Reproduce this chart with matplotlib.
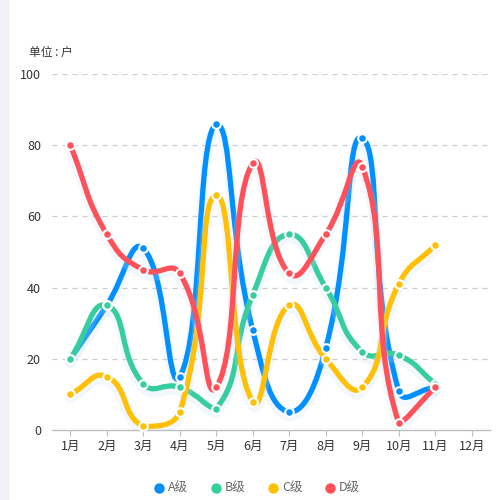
import matplotlib
matplotlib.use("Agg")
import matplotlib.pyplot as plt
import matplotlib.patheffects as pe
from matplotlib.path import Path
from matplotlib.patches import PathPatch, Rectangle
import numpy as np

plt.rcParams['font.family'] = ['Noto Sans CJK SC', 'DejaVu Sans']

# Chart data
months = ['1月', '2月', '3月', '4月', '5月', '6月', '7月', '8月', '9月', '10月', '11月', '12月']
series_names = ['A级', 'B级', 'C级', 'D级']
a_values = [20, 35, 51, 15, 86, 28, 5, 23, 82, 11, 12]
b_values = [20, 35, 13, 12, 6, 38, 55, 40, 22, 21, 13]
c_values = [10, 15, 1, 5, 66, 8, 35, 20, 12, 41, 52]
d_values = [80, 55, 45, 44, 12, 75, 44, 55, 74, 2, 12]
colors = ['#0090FF', '#36CE9E', '#FFC005', '#FF515A']

# pixel scale of the plot area, used so smoothing works like in echarts
PX_X = 36.7
PX_Y = 3.56


def smooth_path(xs, ys, smooth=0.5):
    """Build an echarts (v4) style smoothed bezier path in data coords."""
    pts = np.column_stack([np.array(xs) * PX_X, np.array(ys) * PX_Y])
    lo = pts.min(axis=0)
    hi = pts.max(axis=0)
    n = len(pts)
    cps = []
    for i in range(n):
        p = pts[i]
        prev_p = pts[i - 1] if i > 0 else p
        next_p = pts[i + 1] if i < n - 1 else p
        v = (next_p - prev_p) * smooth
        d0 = np.hypot(*(p - prev_p))
        d1 = np.hypot(*(p - next_p))
        s = d0 + d1
        if s != 0:
            d0 /= s
            d1 /= s
        cp0 = np.clip(p - v * d0, lo, hi)
        cp1 = np.clip(p + v * d1, lo, hi)
        cps.append((cp0, cp1))
    verts = [pts[0]]
    codes = [Path.MOVETO]
    for i in range(n - 1):
        verts += [cps[i][1], cps[i + 1][0], pts[i + 1]]
        codes += [Path.CURVE4] * 3
    verts = np.array(verts) / np.array([PX_X, PX_Y])
    return Path(verts, codes)


fig = plt.figure(figsize=(5, 5), dpi=100)
fig.patches.append(Rectangle((0, 0), 0.016, 1, transform=fig.transFigure,
                             color='#f1f2f8', zorder=0))
ax = fig.add_axes([0.104, 0.14, 0.876, 0.712])

ax.set_xlim(-0.5, 11.5)
ax.set_ylim(0, 100)

x = np.arange(len(a_values))
for vals, color, name in zip([a_values, b_values, c_values, d_values], colors, series_names):
    path = smooth_path(x, vals)
    patch = PathPatch(path, facecolor='none', edgecolor=color, lw=3.8,
                      capstyle='round', joinstyle='round', zorder=3,
                      path_effects=[pe.SimpleLineShadow(offset=(0, -3), shadow_color='#c6e0f8',
                                                        alpha=0.22, linewidth=7),
                                    pe.Normal()])
    ax.add_patch(patch)
    ax.plot(x, vals, 'o', ms=6.2, mfc=color, mec='white', mew=1.5, zorder=5, clip_on=False)

for v in [20, 40, 60, 80, 100]:
    ax.axhline(v, color='#cccccc', lw=0.9, ls=(0, (4, 4)), zorder=1)

for side in ['top', 'right', 'left']:
    ax.spines[side].set_visible(False)
ax.spines['bottom'].set_color('#bfbfbf')
ax.spines['bottom'].set_linewidth(1)

ax.set_xticks(range(len(months)))
ax.set_xticklabels(months, fontsize=9, color='#333333')
ax.set_yticks([0, 20, 40, 60, 80, 100])
ax.set_yticklabels(['0', '20', '40', '60', '80', '100'], fontsize=9, color='#333333')
ax.tick_params(axis='x', length=4, color='#bfbfbf', pad=3)
ax.tick_params(axis='y', length=0, pad=8)

fig.text(0.058, 0.895, '单位 : 户', fontsize=8.5, color='#333333', va='center')

# legend row
leg_x = [0.318, 0.432, 0.546, 0.66]
for lx, color, name in zip(leg_x, colors, series_names):
    fig.lines.append(plt.Line2D([lx], [0.024], marker='o', ms=6.5, color=color,
                                transform=fig.transFigure))
    fig.text(lx + 0.018, 0.024, name, fontsize=9, color='#666666', va='center')

fig.savefig('out.png', dpi=100)
